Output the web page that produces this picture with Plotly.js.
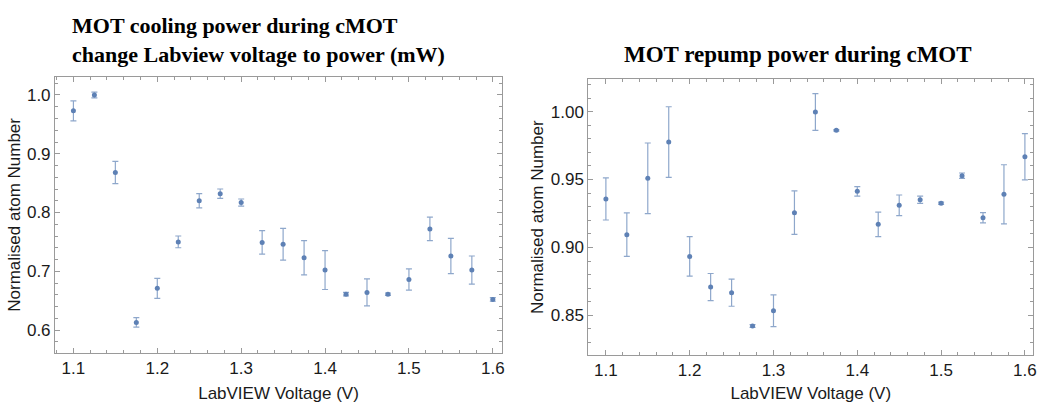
<!DOCTYPE html>
<html>
<head>
<meta charset="utf-8">
<script src="https://cdn.plot.ly/plotly-3.0.1.min.js"></script>
<style>html,body{margin:0;padding:0;background:#fff}#chart{width:1039px;height:403px}</style>
</head>
<body>
<div id="chart"></div>
<script>
// LabVIEW voltages (V)
const voltage = [1.1,1.125,1.15,1.175,1.2,1.225,1.25,1.275,1.3,1.325,1.35,1.375,1.4,1.425,1.45,1.475,1.5,1.525,1.55,1.575,1.6];

// MOT cooling power during cMOT
const coolingN   = [0.973,1.000,0.868,0.613,0.671,0.750,0.820,0.832,0.817,0.749,0.746,0.723,0.702,0.661,0.664,0.661,0.686,0.772,0.726,0.702,0.652];
const coolingErr = [0.017,0.005,0.019,0.008,0.017,0.010,0.012,0.008,0.006,0.020,0.027,0.029,0.033,0.003,0.023,0.002,0.018,0.020,0.030,0.024,0.003];

// MOT repump power during cMOT
const repumpN   = [0.9357,0.9094,0.9509,0.9776,0.8934,0.8708,0.8667,0.8421,0.8534,0.9256,0.9997,0.9862,0.9413,0.9170,0.9310,0.9351,0.9325,0.9528,0.9219,0.9391,0.9668];
const repumpErr = [0.0155,0.016,0.026,0.026,0.0145,0.010,0.010,0.001,0.0117,0.016,0.0135,0.0005,0.0035,0.009,0.0076,0.0027,0.0008,0.002,0.0038,0.0218,0.017];

const titleLeft  = "MOT cooling power during cMOT<br>change Labview voltage to power (mW)";
const titleRight = "MOT repump power during cMOT";
const xTitle = "LabVIEW Voltage (V)";
const yTitle = "Normalised atom Number";

const blue = "#5e81b5";
const errColor = "rgba(94,129,181,0.7)";
const frame = "#9a9a9a";
const txt = "#1a1a1a";
const sans = "Liberation Sans, Arial, sans-serif";

function trace(x, y, e, xa, ya) {
  return {
    type: "scatter", mode: "markers", x: x, y: y, xaxis: xa, yaxis: ya,
    marker: {color: blue, size: 5},
    error_y: {type: "data", array: e, visible: true, color: errColor, thickness: 1.2, width: 3},
    showlegend: false, hoverinfo: "x+y"
  };
}

function axis(extra) {
  return Object.assign({
    showgrid: false, zeroline: false, showline: true, linecolor: frame, linewidth: 1,
    mirror: "ticks", ticks: "inside", ticklen: 5, tickwidth: 1, tickcolor: frame,
    tickfont: {family: sans, size: 17, color: txt},
    automargin: false
  }, extra);
}

const tfont = {family: sans, size: 17, color: txt};

const data = [
  trace(voltage, coolingN, coolingErr, "x", "y"),
  trace(voltage, repumpN, repumpErr, "x2", "y2")
];

const layout = {
  width: 1039, height: 403,
  margin: {l: 0, r: 0, t: 0, b: 0},
  paper_bgcolor: "#fff", plot_bgcolor: "#fff",
  xaxis: axis({domain: [0.0529, 0.4832], range: [1.078, 1.611], dtick: 0.1, tick0: 1.1, tickformat: ".1f",
    minor: {dtick: 0.02, ticks: "inside", ticklen: 3, tickcolor: frame},
    title: {text: xTitle, font: tfont, standoff: 9}, anchor: "y"}),
  yaxis: axis({domain: [0.1248, 0.8089], range: [0.5614, 1.0306], dtick: 0.1, tick0: 0.6, tickformat: ".1f",
    minor: {dtick: 0.02, ticks: "inside", ticklen: 3, tickcolor: frame},
    title: {text: yTitle, font: tfont, standoff: 1}, anchor: "x"}),
  xaxis2: axis({domain: [0.5662, 0.9945], range: [1.079, 1.61], dtick: 0.1, tick0: 1.1, tickformat: ".1f",
    minor: {dtick: 0.02, ticks: "inside", ticklen: 3, tickcolor: frame},
    title: {text: xTitle, font: tfont, standoff: 9}, anchor: "y2"}),
  yaxis2: axis({domain: [0.1191, 0.8032], range: [0.8208, 1.0238], dtick: 0.05, tick0: 0.85, tickformat: ".2f",
    minor: {dtick: 0.01, ticks: "inside", ticklen: 3, tickcolor: frame},
    title: {text: yTitle, font: tfont, standoff: 2}, anchor: "x2"}),
  annotations: [
    {text: titleLeft, xref: "paper", yref: "paper", x: 70/1039, y: 1 - 11/403, xanchor: "left", yanchor: "top",
     align: "left", showarrow: false,
     font: {family: "Liberation Serif, Times New Roman, serif", size: 22, weight: "bold", color: "#000"}},
    {text: titleRight, xref: "paper", yref: "paper", x: 798/1039, y: 1 - 40/403, xanchor: "center", yanchor: "top",
     showarrow: false,
     font: {family: "Liberation Serif, Times New Roman, serif", size: 23, weight: "bold", color: "#000"}}
  ]
};

Plotly.newPlot("chart", data, layout, {displayModeBar: false, staticPlot: true});
</script>
</body>
</html>
